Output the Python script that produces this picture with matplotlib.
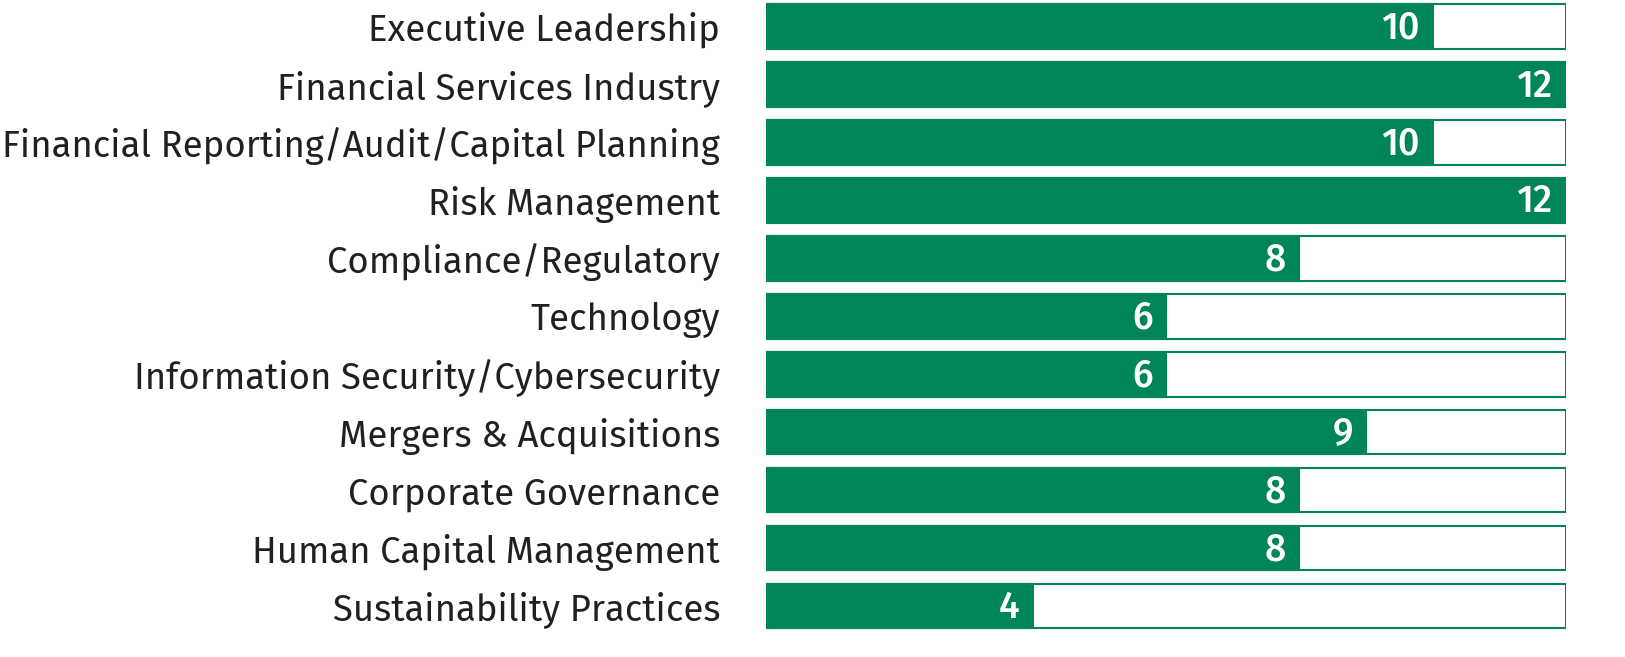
import matplotlib
matplotlib.use("Agg")
import matplotlib.pyplot as plt

GREEN = "#00855a"
TEXT = "#231f20"

categories = [
    "Executive Leadership",
    "Financial Services Industry",
    "Financial Reporting/Audit/Capital Planning",
    "Risk Management",
    "Compliance/Regulatory",
    "Technology",
    "Information Security/Cybersecurity",
    "Mergers & Acquisitions",
    "Corporate Governance",
    "Human Capital Management",
    "Sustainability Practices",
]
values = [10, 12, 10, 12, 8, 6, 6, 9, 8, 8, 4]
total = 12

plt.rcParams["font.family"] = ["Fira Sans", "Noto Sans", "DejaVu Sans"]

fig = plt.figure(figsize=(16.25, 6.57), dpi=100)
ax = fig.add_axes([766 / 1625, 0, 800 / 1625, 1])

y = list(range(len(categories)))
# outline box for the full scale, then the filled part
ax.barh(y, [total] * len(y), height=0.77, color="white", edgecolor=GREEN, linewidth=1.5)
ax.barh(y, values, height=0.77, color=GREEN, edgecolor=GREEN, linewidth=1.5)

for yi, v in zip(y, values):
    ax.text(v - 0.2, yi + 0.03, str(v), ha="right", va="center",
            color="white", fontsize=27, fontweight="medium")

ax.set_yticks(y)
ax.set_yticklabels(categories, fontsize=26.3, color=TEXT)
ax.tick_params(axis="y", length=0, pad=33)
ax.set_xticks([])
ax.set_xlim(0, total)
ax.set_ylim(10.88, -0.457)
for s in ax.spines.values():
    s.set_visible(False)

fig.savefig("out.png", dpi=100)
